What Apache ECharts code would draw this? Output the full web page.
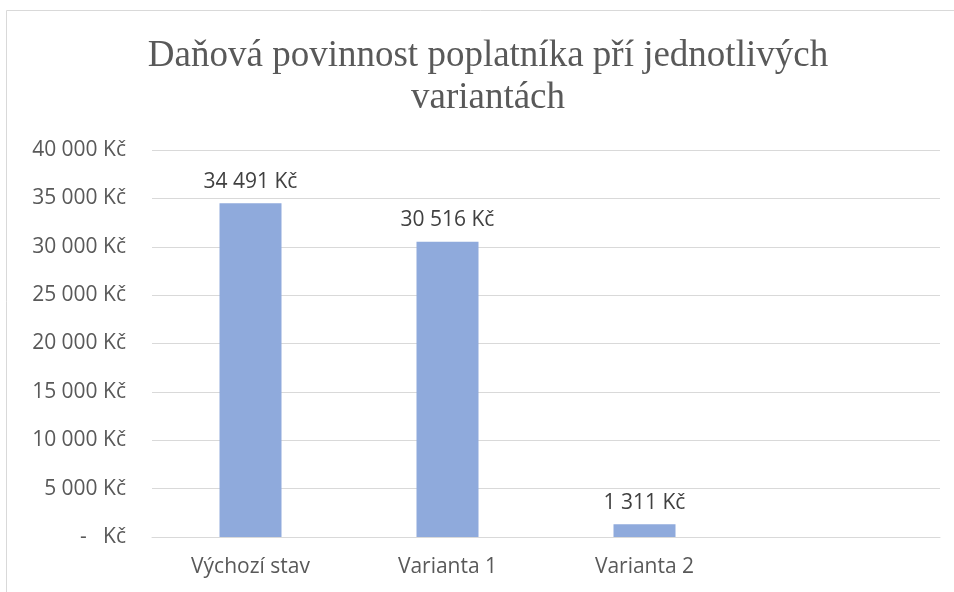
<!DOCTYPE html>
<html>
<head>
<meta charset="utf-8">
<script src="https://cdn.jsdelivr.net/npm/echarts@6/dist/echarts.min.js"></script>
<style>
  html, body { margin: 0; padding: 0; background: #fff; }
  #chart { width: 954px; height: 592px; }
</style>
</head>
<body>
<div id="chart"></div>
<script>
// data
const categories = ['Výchozí stav', 'Varianta 1', 'Varianta 2', ''];
const taxValues = [34491, 30516, 1311, null];
const yTicks = [0, 5000, 10000, 15000, 20000, 25000, 30000, 35000, 40000];

const fmtKc = (v) => {
  if (v === 0) return '-   Kč';
  return String(v).replace(/\B(?=(\d{3})+(?!\d))/g, ' ') + ' Kč';
};

const chart = echarts.init(document.getElementById('chart'));
chart.setOption({
  animation: false,
  graphic: [{
    type: 'rect',
    shape: { x: 6.5, y: 10.5, width: 960, height: 600 },
    style: { fill: 'none', stroke: '#d9d9d9', lineWidth: 1 },
    silent: true
  }, {
    // title centred over the chart frame
    type: 'text',
    x: 488,
    y: 35,
    style: {
      text: 'Daňová povinnost poplatníka pří jednotlivých\nvariantách',
      align: 'center',
      fontFamily: 'Liberation Serif',
      fontSize: 37,
      lineHeight: 42,
      fill: '#595959'
    },
    silent: true
  }],
  grid: { left: 152, right: 14, top: 150, bottom: 55 },
  xAxis: {
    type: 'category',
    data: categories,
    axisTick: { show: false },
    axisLine: { lineStyle: { color: '#d9d9d9', width: 1 } },
    axisLabel: {
      margin: 20,
      fontFamily: 'Open Sans',
      fontSize: 21,
      color: '#595959'
    }
  },
  yAxis: {
    type: 'value',
    min: yTicks[0],
    max: yTicks[yTicks.length - 1],
    interval: 5000,
    axisLine: { show: false },
    axisTick: { show: false },
    splitLine: { lineStyle: { color: '#d9d9d9', width: 1 } },
    axisLabel: {
      margin: 26,
      fontFamily: 'Open Sans',
      fontSize: 21,
      color: '#595959',
      formatter: fmtKc
    }
  },
  series: [{
    type: 'bar',
    data: taxValues,
    barWidth: 62,
    itemStyle: { color: '#8faadc' },
    label: {
      show: true,
      position: 'top',
      distance: 11,
      fontFamily: 'Open Sans',
      fontSize: 21,
      color: '#404040',
      formatter: (p) => fmtKc(p.value)
    }
  }]
});
</script>
</body>
</html>
